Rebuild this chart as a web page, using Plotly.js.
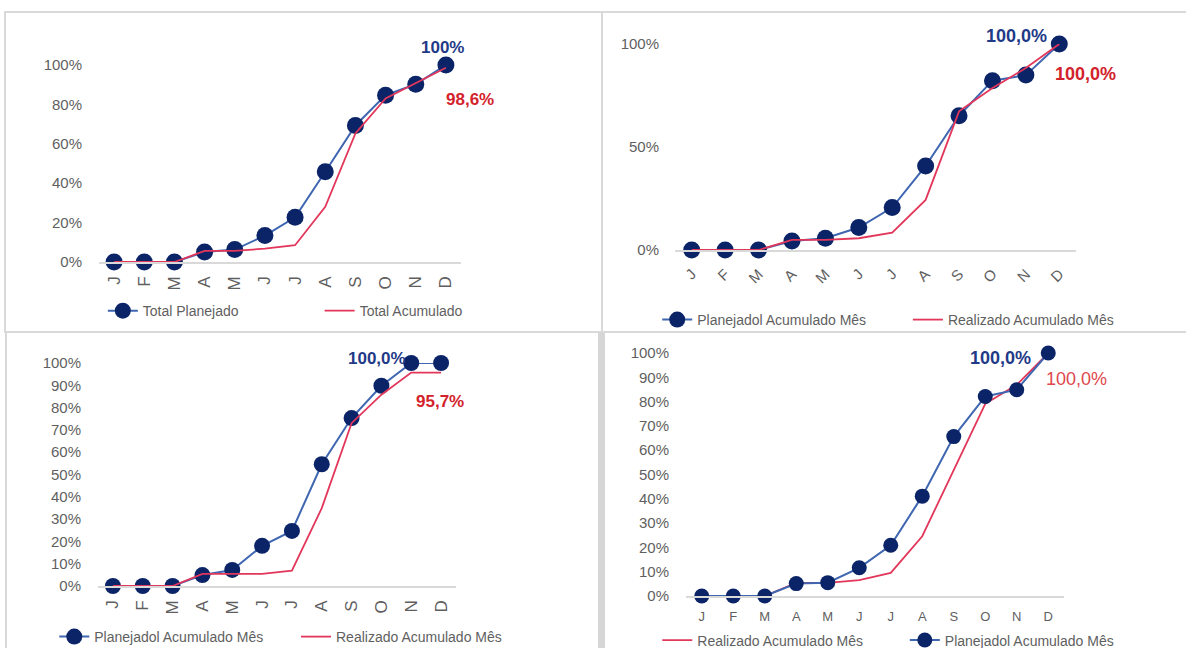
<!DOCTYPE html>
<html>
<head>
<meta charset="utf-8">
<script src="https://cdn.plot.ly/plotly-3.0.1.min.js"></script>
<style>
  html, body { margin:0; padding:0; background:#ffffff; }
  body { width:1186px; height:648px; overflow:hidden; position:relative; }
  .frame { position:absolute; box-sizing:border-box; border:2px solid #d9d9d9; }
  .plot { position:absolute; }
</style>
</head>
<body>
<div class="frame" style="left:4px;top:11px;width:599px;height:322px;"></div>
<div class="frame" style="left:601px;top:11px;width:600px;height:322px;"></div>
<div class="frame" style="left:5px;top:331px;width:597px;height:330px;"></div>
<div class="frame" style="left:600px;top:331px;width:600px;height:330px;"></div>
<div style="position:absolute;left:598px;top:333px;width:7px;height:315px;background:#d6d6d6;"></div>

<div id="p1" class="plot" style="left:6px;top:14px;"></div>
<div id="p2" class="plot" style="left:603px;top:14px;"></div>
<div id="p3" class="plot" style="left:7px;top:334px;"></div>
<div id="p4" class="plot" style="left:605px;top:334px;"></div>

<script>
// ---- Data ----
const months = ['J','F','M','A','M','J','J','A','S','O','N','D'];

const p1Planejado = [0, 0, 0, 0.051, 0.063, 0.134, 0.227, 0.458, 0.693, 0.847, 0.902, 1.0];
const p1Acumulado = [0, 0, 0, 0.056, 0.056, 0.068, 0.085, 0.280, 0.653, 0.830, 0.907, 0.986];
const p1Names = ['Total Planejado', 'Total Acumulado'];
const p1Labels = ['100%', '98,6%'];

const p2Planejado = [0, 0, 0, 0.044, 0.057, 0.109, 0.206, 0.408, 0.652, 0.822, 0.849, 1.0];
const p2Realizado = [0, 0, 0, 0.049, 0.049, 0.057, 0.084, 0.243, 0.673, 0.786, 0.883, 1.0];
const p2Names = ['Planejadol Acumulado Mês', 'Realizado Acumulado Mês'];
const p2Labels = ['100,0%', '100,0%'];

const p3Planejado = [0, 0, 0, 0.049, 0.072, 0.180, 0.247, 0.546, 0.753, 0.898, 1.0, 1.0];
const p3Realizado = [0, 0, 0, 0.054, 0.054, 0.054, 0.069, 0.349, 0.730, 0.858, 0.957, 0.957];
const p3Names = ['Planejadol Acumulado Mês', 'Realizado Acumulado Mês'];
const p3Labels = ['100,0%', '95,7%'];

const p4Planejado = [0, 0, 0, 0.051, 0.055, 0.116, 0.209, 0.411, 0.656, 0.821, 0.849, 1.0];
const p4Realizado = [0, 0, 0, 0.054, 0.054, 0.065, 0.095, 0.246, 0.519, 0.791, 0.869, 1.0];
const p4Names = ['Planejadol Acumulado Mês', 'Realizado Acumulado Mês'];
const p4Labels = ['100,0%', '100,0%'];

// ---- Styling ----
const NAVY = '#0b2468';
const BLUE_LINE = '#3f66b0';
const RED_LINE = '#e2365a';
const LABEL_BLUE = '#1f3a87';
const LABEL_RED = '#d3222b';
const GRAY = '#5f5f5f';
const FONT = 'Liberation Sans, Arial, sans-serif';

const idx = months.map((m, i) => i);

function planTrace(vals, name, msize, leg) {
  return {
    type: 'scatter', mode: 'lines+markers', x: idx, y: vals, name: name, legend: leg,
    line: {color: BLUE_LINE, width: 2},
    marker: {color: NAVY, size: msize, line: {width: 0}},
    cliponaxis: false, hoverinfo: 'skip'
  };
}
function realTrace(vals, name, leg) {
  return {
    type: 'scatter', mode: 'lines', x: idx, y: vals, name: name, legend: leg,
    line: {color: RED_LINE, width: 1.8},
    cliponaxis: false, hoverinfo: 'skip'
  };
}

function legendAt(x, y) {
  return {
    orientation: 'h', xref: 'container', yref: 'container',
    x: x, y: y, xanchor: 'left', yanchor: 'middle',
    font: {size: 14, color: GRAY, family: FONT},
    bgcolor: 'rgba(0,0,0,0)', itemclick: false, itemdoubleclick: false
  };
}

function draw(id, cfg) {
  const last = idx.length - 1;
  const layout = {
    width: cfg.w, height: cfg.h,
    margin: Object.assign({pad: 0, autoexpand: false}, cfg.margin),
    paper_bgcolor: 'rgba(0,0,0,0)', plot_bgcolor: 'rgba(0,0,0,0)',
    font: {family: FONT, color: GRAY},
    showlegend: true,
    legend: legendAt(cfg.legX[0], cfg.legY),
    legend2: legendAt(cfg.legX[1], cfg.legY),
    xaxis: {
      range: [-0.5, 11.5], tickmode: 'array', tickvals: idx, ticktext: months,
      tickangle: cfg.tickAngle, showgrid: false, zeroline: false,
      showline: true, linecolor: '#d9d9d9', linewidth: 1.5, ticks: '',
      tickfont: {size: cfg.xTickSize, color: GRAY, family: FONT},
      ticklabelstandoff: cfg.xStandoff, fixedrange: true
    },
    yaxis: {
      range: [0, 1], tickmode: 'array', tickvals: cfg.yTicks, tickformat: '.0%',
      showgrid: false, zeroline: false, showline: false, ticks: '',
      tickfont: {size: 15, color: GRAY, family: FONT},
      ticklabelstandoff: cfg.yStandoff, fixedrange: true
    },
    annotations: [
      {x: last, y: cfg.plan[last], xref: 'x', yref: 'y', text: cfg.labels[0], showarrow: false,
       xshift: cfg.blueShift[0], yshift: cfg.blueShift[1], xanchor: 'center', yanchor: 'middle',
       font: {size: cfg.labelSize, color: LABEL_BLUE, family: FONT, weight: 'bold'}},
      {x: last, y: cfg.real[last], xref: 'x', yref: 'y', text: cfg.labels[1], showarrow: false,
       xshift: cfg.redShift[0], yshift: cfg.redShift[1], xanchor: 'center', yanchor: 'middle',
       font: {size: cfg.labelSize, color: cfg.redColor || LABEL_RED, family: FONT, weight: cfg.redWeight || 'bold'}}
    ]
  };
  const traces = cfg.redFirst
    ? [realTrace(cfg.real, cfg.names[1], 'legend'), planTrace(cfg.plan, cfg.names[0], cfg.msize, 'legend2')]
    : [planTrace(cfg.plan, cfg.names[0], cfg.msize, 'legend'), realTrace(cfg.real, cfg.names[1], 'legend2')];
  Plotly.newPlot(id, traces, layout, {staticPlot: true, displayModeBar: false});
}

draw('p1', {
  w: 594, h: 317, margin: {l: 93, r: 139, t: 51, b: 69},
  plan: p1Planejado, real: p1Acumulado, names: p1Names, labels: p1Labels,
  yTicks: [0, 0.2, 0.4, 0.6, 0.8, 1.0], tickAngle: -90, xTickSize: 17, xStandoff: 6, yStandoff: 16,
  legX: [0.163, 0.528], legY: 0.063, msize: 17, labelSize: 17,
  blueShift: [-3, 18], redShift: [24, -32]
});
draw('p2', {
  w: 583, h: 317, margin: {l: 72, r: 110, t: 30, b: 81},
  plan: p2Planejado, real: p2Realizado, names: p2Names, labels: p2Labels,
  yTicks: [0, 0.5, 1.0], tickAngle: -45, xTickSize: 15, xStandoff: 8, yStandoff: 15,
  legX: [0.093, 0.523], legY: 0.0347, msize: 17, labelSize: 18,
  blueShift: [-43, 8], redShift: [26, -30]
});
draw('p3', {
  w: 591, h: 314, margin: {l: 91, r: 142, t: 29, b: 62},
  plan: p3Planejado, real: p3Realizado, names: p3Names, labels: p3Labels,
  yTicks: [0, 0.1, 0.2, 0.3, 0.4, 0.5, 0.6, 0.7, 0.8, 0.9, 1.0], tickAngle: -90, xTickSize: 17, xStandoff: 6, yStandoff: 16,
  legX: [0.08, 0.489], legY: 0.035, msize: 16, labelSize: 17,
  blueShift: [-64, 5], redShift: [-1, -29]
});
draw('p4', {
  w: 581, h: 314, margin: {l: 81, r: 122, t: 19, b: 52},
  plan: p4Planejado, real: p4Realizado, names: p4Names, labels: p4Labels, redFirst: true,
  yTicks: [0, 0.1, 0.2, 0.3, 0.4, 0.5, 0.6, 0.7, 0.8, 0.9, 1.0], tickAngle: 0, xTickSize: 13, xStandoff: 8, yStandoff: 16,
  legX: [0.09, 0.516], legY: 0.024, msize: 15, labelSize: 18,
  blueShift: [-48, -5], redShift: [28, -26], redColor: '#e0474c', redWeight: 'normal'
});
</script>
</body>
</html>
